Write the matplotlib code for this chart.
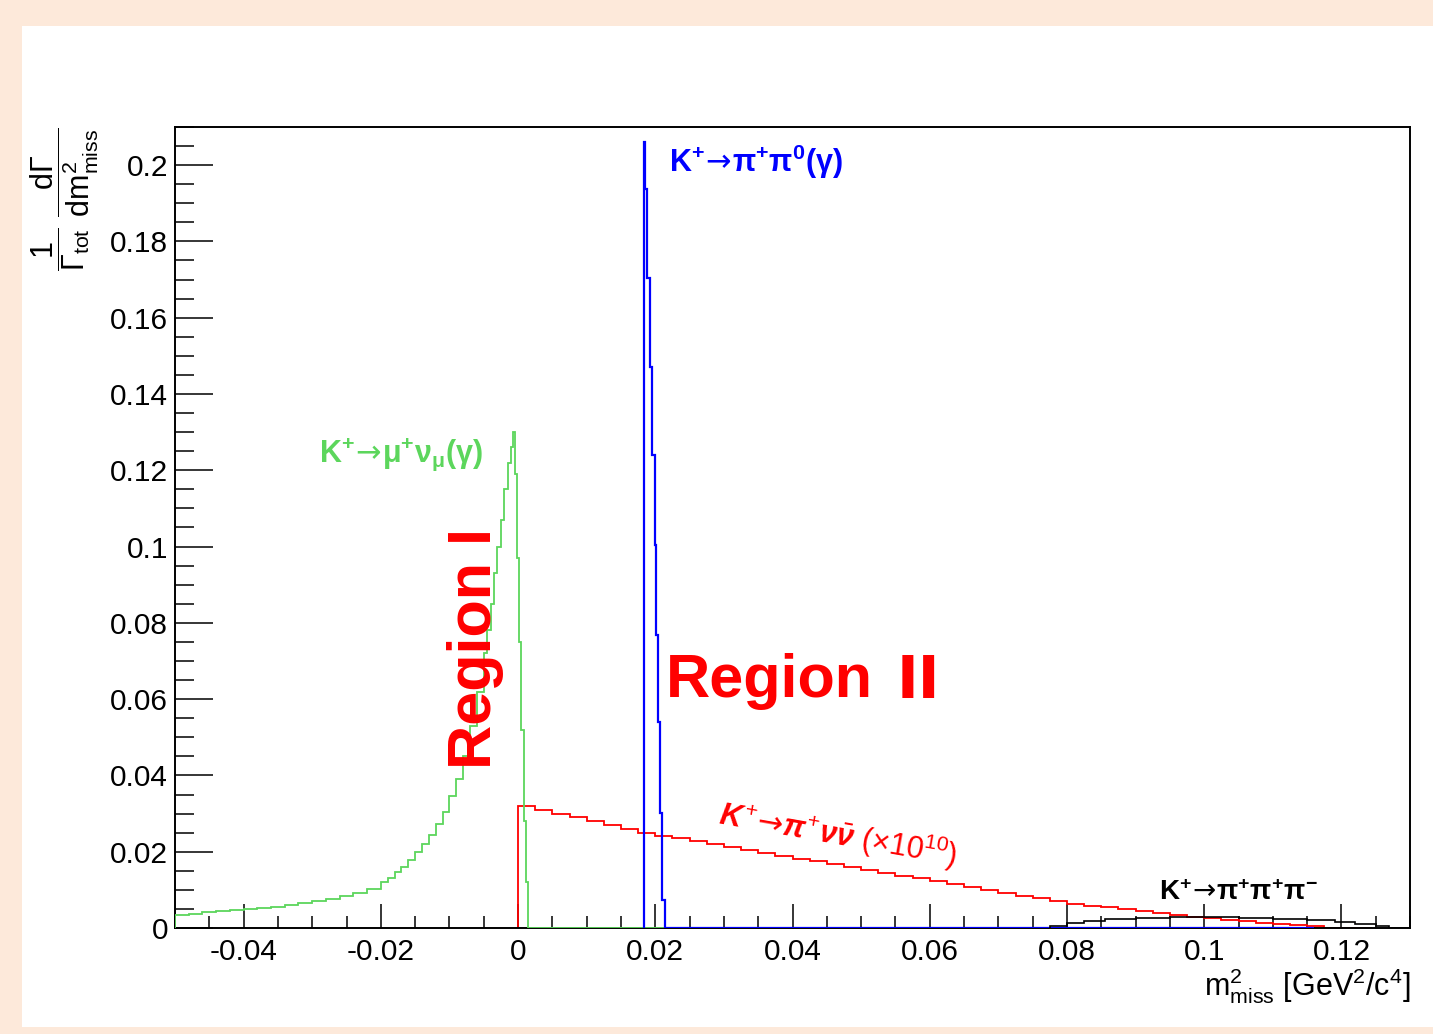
import matplotlib

matplotlib.use("Agg")
import matplotlib.pyplot as plt
from matplotlib.patches import Rectangle
from matplotlib.ticker import FuncFormatter, MultipleLocator

plt.rcParams["font.family"] = ["Liberation Sans", "DejaVu Sans"]
plt.rcParams["mathtext.fontset"] = "custom"
plt.rcParams["mathtext.rm"] = "Liberation Sans"
plt.rcParams["mathtext.sf"] = "Liberation Sans"
plt.rcParams["mathtext.bf"] = "Liberation Sans:bold"
plt.rcParams["mathtext.it"] = "Liberation Sans:bold:italic"
plt.rcParams["mathtext.cal"] = "DejaVu Sans"  # only used for the arrows
plt.rcParams["mathtext.default"] = "regular"
plt.rcParams["axes.unicode_minus"] = False

# K+ -> mu+ nu (gamma), variable bins
green_edges = [-0.050, -0.048, -0.046, -0.044, -0.042, -0.040, -0.038, -0.036, -0.034,
               -0.032, -0.030, -0.028, -0.026, -0.024, -0.022, -0.020,
               -0.019, -0.018, -0.017, -0.016, -0.015, -0.014, -0.013, -0.012, -0.011,
               -0.010, -0.009, -0.008, -0.007, -0.006, -0.005,
               -0.0045, -0.004, -0.0035, -0.003, -0.0025, -0.002, -0.0015, -0.001,
               -0.0007, -0.0004, -0.0001, 0.0002, 0.0005, 0.0008, 0.0011, 0.0014, 0.025]
green_vals = [0.0035, 0.0038, 0.0041, 0.0044, 0.0048, 0.0051, 0.0053, 0.0056, 0.0060,
              0.0065, 0.0070, 0.0076, 0.0083, 0.0091, 0.0103,
              0.0120, 0.0132, 0.0146, 0.0160, 0.0178, 0.0198, 0.0220, 0.0245, 0.0272,
              0.0305, 0.0345, 0.0390, 0.0450, 0.0530, 0.0620,
              0.0720, 0.0780, 0.0850, 0.0930, 0.1000, 0.1070, 0.1150, 0.1220,
              0.1260, 0.1300, 0.1190, 0.0970, 0.0750, 0.0520, 0.0280, 0.0120, 0.0]

# K+ -> pi+ pi0 (gamma)
blue_edges = [0.01835, 0.01854, 0.01883, 0.01917, 0.01951, 0.0199, 0.02015, 0.0204,
              0.02063, 0.02098, 0.02136, 0.116]
blue_vals = [0.206, 0.1937, 0.1704, 0.147, 0.124, 0.1004, 0.0768, 0.054, 0.0302, 0.0073, 0.0]

# K+ -> pi+ nu nubar (x 1e10), 0.0025 wide bins from 0 to 0.12, then empty to the end
red_edges = [i * 0.0025 for i in range(49)] + [0.1245]
red_vals = [0.0320, 0.0310, 0.0300, 0.0290, 0.0280, 0.0270, 0.0260, 0.0250, 0.0242, 0.0235,
            0.0227, 0.0220, 0.0212, 0.0205, 0.0197, 0.0190, 0.0182, 0.0175, 0.0167, 0.0160,
            0.0152, 0.0145, 0.0137, 0.0130, 0.0122, 0.0115, 0.0107, 0.0100, 0.0092, 0.0085,
            0.0078, 0.0071, 0.0064, 0.0059, 0.0054, 0.0049, 0.0044, 0.0039, 0.0034, 0.0030,
            0.0026, 0.0022, 0.0018, 0.0014, 0.0010, 0.0007, 0.0004, 0.0001, 0.0]

# K+ -> pi+ pi+ pi-
black_edges = [0.0775, 0.080, 0.0825, 0.0855, 0.090, 0.095, 0.100, 0.105, 0.110, 0.115,
               0.119, 0.122, 0.125, 0.127, 0.130]
black_vals = [0.0005, 0.0012, 0.0018, 0.0024, 0.0027, 0.0029, 0.0029, 0.0027, 0.0024,
              0.0021, 0.0015, 0.0010, 0.0005, 0.0]

GREEN = "#5cd65c"
BLUE = "#0000ff"
RED = "#ff0000"
ARROW = r"\!\mathcal{\rightarrow}\!"

fig = plt.figure(figsize=(14.33, 10.34), dpi=100, facecolor="#fde9da")
fig.patches.append(Rectangle((0.0154, 0.0068), 0.99, 0.9681, transform=fig.transFigure,
                             facecolor="white", edgecolor="none", zorder=-10))
ax = fig.add_axes([0.1221, 0.1025, 0.8619, 0.7747])
ax.set_facecolor("white")

ax.stairs(red_vals, red_edges, baseline=0, color=RED, linewidth=1.3, zorder=2)
ax.stairs(green_vals, green_edges, baseline=0, color=GREEN, linewidth=1.3, zorder=3)
ax.stairs(blue_vals, blue_edges, baseline=0, color=BLUE, linewidth=1.6, zorder=4)
ax.stairs(black_vals, black_edges, baseline=0, color="black", linewidth=1.2, zorder=5)

ax.set_xlim(-0.05, 0.13)
ax.set_ylim(0, 0.21)
ax.xaxis.set_major_locator(MultipleLocator(0.02))
ax.xaxis.set_minor_locator(MultipleLocator(0.005))
ax.yaxis.set_major_locator(MultipleLocator(0.02))
ax.yaxis.set_minor_locator(MultipleLocator(0.005))
fmt = FuncFormatter(lambda v, pos: f"{round(v, 4):g}")
ax.xaxis.set_major_formatter(fmt)
ax.yaxis.set_major_formatter(fmt)
ax.tick_params(which="both", direction="in", top=False, right=False, width=1.1,
               labelsize=21.5)
ax.tick_params(axis="x", which="major", length=17, pad=7)
ax.tick_params(axis="x", which="minor", length=8.5)
ax.tick_params(axis="y", which="major", length=27, pad=5)
ax.tick_params(axis="y", which="minor", length=13.5)
for side in ax.spines.values():
    side.set_linewidth(1.4)

ax.text(0.022, 0.2008, rf"$\mathbf{{K^{{+}}}}{ARROW}\mathbf{{\pi^{{+}}\pi^{{0}}(\gamma)}}$",
        color=BLUE, fontsize=22, ha="left", va="center")
ax.text(-0.029, 0.124, rf"$\mathbf{{K^{{+}}}}{ARROW}\mathbf{{\mu^{{+}}\nu_{{\mu}}(\gamma)}}$",
        color=GREEN, fontsize=22, ha="left", va="center")
ax.text(0.0934, 0.0092, rf"$\mathbf{{K^{{+}}}}{ARROW}\mathbf{{\pi^{{+}}\pi^{{+}}\pi^{{-}}}}$",
        color="black", fontsize=20, ha="left", va="center")
ax.text(0.0466, 0.0244,
        rf"$\mathit{{K^{{+}}}}{ARROW}\mathit{{\pi^{{+}}\nu\bar{{\nu}}\ (\times10^{{10}})}}$",
        color=RED, fontsize=22, ha="center", va="center", rotation=-10,
        rotation_mode="anchor")
ax.text(-0.0062, 0.0734, "Region I", color=RED, fontsize=44, fontweight="bold",
        rotation=90, ha="center", va="center")
ax.text(0.0216, 0.0647, "Region", color=RED, fontsize=44, fontweight="bold",
        ha="left", va="center")
ax.text(0.0552, 0.0647, "II", color=RED, fontsize=42, fontweight="bold",
        family="DejaVu Sans", ha="left", va="center")

fig.text(0.0450, 0.8772,
         r"$\dfrac{1}{\Gamma_{tot}}\ \dfrac{d\Gamma}{dm^{2}_{miss}}$",
         fontsize=22, rotation=90, ha="center", va="top")
ax.text(1.0, -0.072, r"$m^{2}_{miss}$ [GeV$^{2}$/c$^{4}$]", transform=ax.transAxes,
        fontsize=22, ha="right", va="center")

fig.savefig("out.png", dpi=100, facecolor=fig.get_facecolor())
plt.close(fig)
